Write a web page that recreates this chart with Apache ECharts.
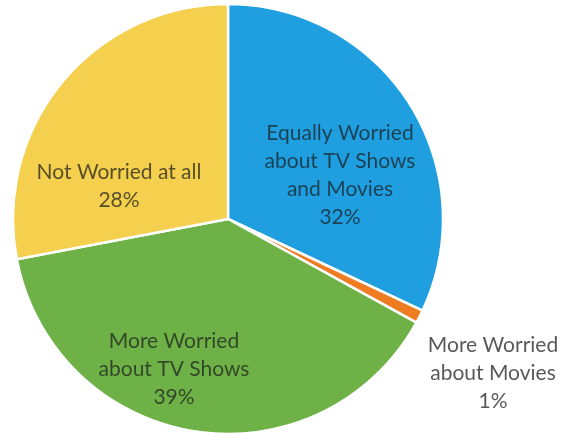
<!DOCTYPE html>
<html><head><meta charset="utf-8">
<script src="https://cdn.jsdelivr.net/npm/echarts@6/dist/echarts.min.js"></script>
<style>html,body{margin:0;padding:0;background:#fff}#c{width:562px;height:433px}</style>
</head><body><div id="c"></div>
<script>
const categories = ['Equally Worried\nabout TV Shows\nand Movies', 'More Worried\nabout Movies', 'More Worried\nabout TV Shows', 'Not Worried at all'];
const values = [32, 1, 39, 28];
const colors = ['#1f9fe0', '#f07c22', '#6db147', '#f4d04e'];
const labelSpots = [[340, 175], [493, 373], [174, 369], [119, 186]];
const labelColors = ['rgba(25,25,25,0.7)', '#595959', 'rgba(25,25,25,0.7)', 'rgba(25,25,25,0.72)'];

const chart = echarts.init(document.getElementById('c'));
chart.setOption({
  animation: false,
  series: [{
    type: 'pie',
    center: [228, 219],
    radius: [0, 215],
    startAngle: 90,
    clockwise: true,
    itemStyle: { borderColor: '#fff', borderWidth: 2.5 },
    label: {
      show: true, position: 'inside',
      formatter: '{b}\n{c}%',
      fontFamily: 'Lato', fontSize: 21, lineHeight: 28,
      align: 'center', verticalAlign: 'middle'
    },
    labelLine: { show: false },
    labelLayout: function (p) {
      const s = labelSpots[p.dataIndex];
      return { x: s[0], y: s[1], align: 'center', verticalAlign: 'middle' };
    },
    data: categories.map((n, i) => ({
      name: n, value: values[i],
      itemStyle: { color: colors[i] },
      label: { color: labelColors[i] }
    }))
  }]
});
</script></body></html>
